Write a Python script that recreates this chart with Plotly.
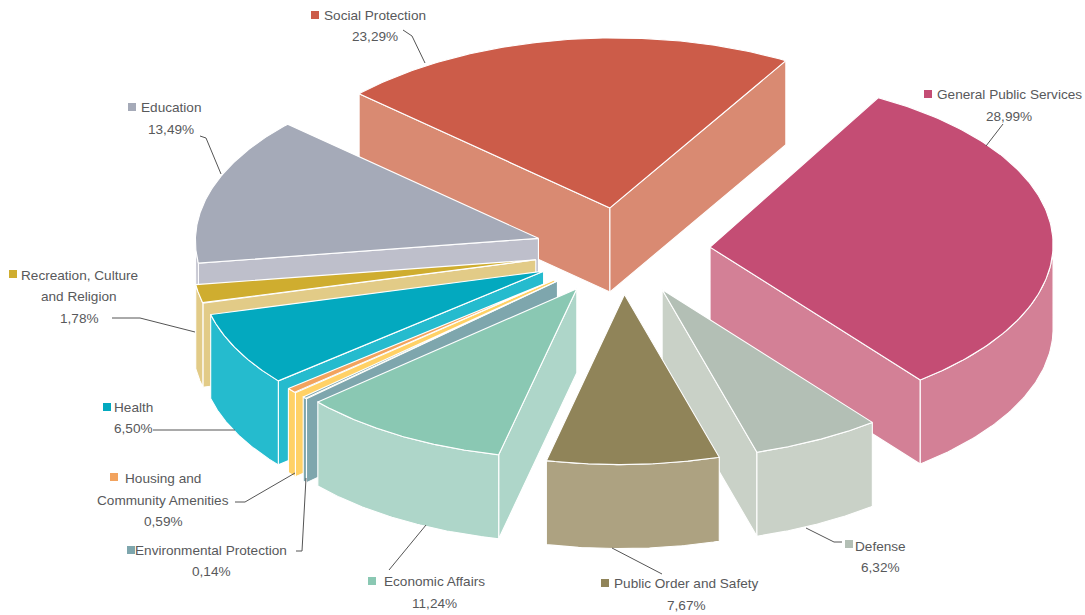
import numpy as np
import plotly.graph_objects as go

# ---- data ----
categories = ["General Public Services", "Defense", "Public Order and Safety", "Economic Affairs",
              "Environmental Protection", "Housing and Community Amenities", "Health",
              "Recreation, Culture and Religion", "Education", "Social Protection"]
shares = [28.99, 6.32, 7.67, 11.24, 0.14, 0.59, 6.50, 1.78, 13.49, 23.29]
share_labels = ["28,99%", "6,32%", "7,67%", "11,24%", "0,14%", "0,59%", "6,50%", "1,78%", "13,49%", "23,29%"]

# ---- styles ----
top_colors = ["#C44D74", "#B3BFB5", "#908459", "#8AC8B3", "#7EA6AD", "#F2A35E", "#03A9BF", "#CFAD2F", "#A5AAB8", "#CC5C49"]
side_colors = ["#D38096", "#C9D1C7", "#ADA281", "#AED6C9", "#7EA6AD", "#FFD166", "#25BBCE", "#E2CB87", "#BEBFCB", "#D98A72"]
draw_order = [9, 8, 0, 7, 6, 5, 4, 3, 1, 2]
CX, CY, RX, RY, PULL, DEPTH, START, SHEAR = 622, 251, 343, 170, 88, 84, 36, -0.03
# small view corrections of each slice's edges, degrees
start_nudge = [-7.5, 1, 0, 1.6, -5.0, -3.4, -4, -2, -2, 0]
end_nudge = [1, 0, 1.6, -3.0, -4.7, -3.7, -2, -2, 0, -6]

fig = go.Figure()


def pos(theta, ox=0.0, oy=0.0):
    t = np.radians(theta)
    y = oy - RY * np.cos(t)
    return ox + RX * np.sin(t) + SHEAR * (y - 260), y


def poly(xs, ys, fill):
    fig.add_trace(go.Scatter(x=xs, y=ys, mode="lines", fill="toself", fillcolor=fill,
                             line=dict(color="white", width=1.1), hoverinfo="skip", showlegend=False))


scale = 360.0 / sum(shares)
edges = START + np.r_[0, np.cumsum(shares)] * scale
slices = [(edges[k] + start_nudge[k], edges[k + 1] + end_nudge[k]) for k in range(len(shares))]

for i in draw_order:
    a0, a1 = slices[i]
    mid = (a0 + a1) / 2
    t = np.radians(mid)
    ox, oy = CX + PULL * np.sin(t), CY - PULL * RY / RX * np.cos(t)
    ax = ox + SHEAR * (oy - 260)
    # radial faces that face the viewer
    for a, visible in ((a0, np.sin(np.radians(a0)) < 0), (a1, np.sin(np.radians(a1)) > 0)):
        if visible:
            px, py = pos(a, ox, oy)
            poly([ax, px, px, ax, ax], [oy, py, py + DEPTH, oy + DEPTH, oy], side_colors[i])
    # outer rim, front part only
    lo, hi = max(a0, 90), min(a1, 270)
    if hi > lo:
        th = np.linspace(lo, hi, 60)
        rx, ry = pos(th, ox, oy)
        poly(np.r_[rx, rx[::-1], rx[0]], np.r_[ry, ry[::-1] + DEPTH, ry[0]], side_colors[i])
    # top
    th = np.linspace(a0, a1, 120)
    tx, ty = pos(th, ox, oy)
    poly(np.r_[ax, tx, ax], np.r_[oy, ty, oy], top_colors[i])

# ---- labels ----
label_text = [
    ["General Public Services", "28,99%"], ["Defense", "6,32%"], ["Public Order and Safety", "7,67%"],
    ["Economic Affairs", "11,24%"], ["Environmental Protection", "0,14%"],
    ["Housing and", "Community Amenities", "0,59%"], ["Health", "6,50%"],
    ["Recreation, Culture", "and Religion", "1,78%"], ["Education", "13,49%"], ["Social Protection", "23,29%"],
]
label_lines = [
    [(1009, 94), (1009, 116)], [(880, 546), (880, 567)], [(686, 583), (686, 605)],
    [(434, 581), (434, 603)], [(211, 550), (211, 571)],
    [(163, 478), (163, 500), (163, 521)], [(133, 407), (133, 428)],
    [(79, 275), (79, 296), (79, 318)], [(171, 107), (171, 129)], [(375, 15), (375, 36)],
]
marker_xy = [(928, 94), (849, 544), (605, 583), (372, 581), (131, 550), (114, 477), (107, 407), (13, 274), (132, 107), (315, 15)]
leaders = [
    ([1003, 986], [124, 146]), ([806, 834, 842], [528, 542, 542]), ([612, 662], [548, 574]),
    ([426, 389], [525, 570]), ([306, 302, 296], [478, 551, 551]), ([295, 245, 235], [473, 502, 502]),
    ([235, 153], [430, 430]), ([195, 140, 112], [332, 318, 318]), ([221, 206, 200], [174, 138, 136]),
    ([425, 412, 403], [63, 36, 30]),
]
for lx, ly in leaders:
    fig.add_trace(go.Scatter(x=lx, y=ly, mode="lines", line=dict(color="#555555", width=1),
                             hoverinfo="skip", showlegend=False))
fig.add_trace(go.Scatter(x=[m[0] for m in marker_xy], y=[m[1] for m in marker_xy], mode="markers",
                         marker=dict(symbol="square", size=8, color=top_colors, line=dict(width=0)),
                         hoverinfo="skip", showlegend=False))
annotations = []
for lines, xy in zip(label_text, label_lines):
    for s, (x, y) in zip(lines, xy):
        annotations.append(dict(x=x, y=y, text=s, showarrow=False, xanchor="center", yanchor="middle",
                                font=dict(family="Liberation Sans", size=13.6, color="#58595B")))

fig.update_layout(
    width=1085, height=615, margin=dict(l=0, r=0, t=0, b=0),
    paper_bgcolor="white", plot_bgcolor="white", annotations=annotations,
    xaxis=dict(range=[0, 1085], visible=False, fixedrange=True),
    yaxis=dict(range=[615, 0], visible=False, fixedrange=True),
)
fig.write_html("out.html", config=dict(displayModeBar=False),
               post_script="document.body.style.margin='0';document.body.style.overflow='hidden';")
